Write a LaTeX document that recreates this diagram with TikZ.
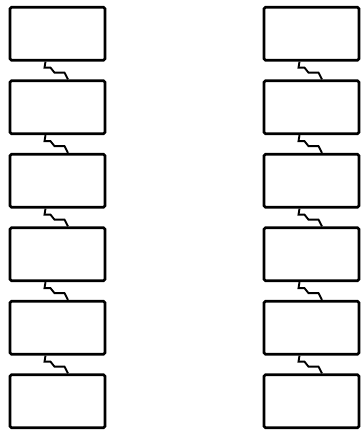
\documentclass[tikz,border=0pt]{standalone}
\usetikzlibrary{positioning}
\tikzstyle{cell}  = [rectangle, minimum width=95pt, minimum height=53pt,
                     draw=black, line width=2.8pt, rounded corners=1.5pt, inner sep=0pt]
\tikzstyle{link}  = [line width=1.9pt, line join=miter,
                     to path={([xshift=-12pt]\tikztostart.south) -- ++(-1pt,-6pt)
                       -- ++(6pt,0pt) -- ++(4pt,-5pt) -- ++(10pt,0pt)
                       -- ([xshift=10.5pt]\tikztotarget.north)}]
\begin{document}
\begin{tikzpicture}[node distance=17.7pt]
  \useasboundingbox (0,0) rectangle (361pt,-432pt);
  % left column
  \node (l1) [cell] at (57.5pt,-33.75pt) {};
  \node (l2) [cell, below=of l1] {};
  \node (l3) [cell, below=of l2] {};
  \node (l4) [cell, below=of l3] {};
  \node (l5) [cell, below=of l4] {};
  \node (l6) [cell, below=of l5] {};
  % right column
  \node (r1) [cell] at (311.5pt,-33.75pt) {};
  \node (r2) [cell, below=of r1] {};
  \node (r3) [cell, below=of r2] {};
  \node (r4) [cell, below=of r3] {};
  \node (r5) [cell, below=of r4] {};
  \node (r6) [cell, below=of r5] {};

  \draw [link] (l1) to (l2);
  \draw [link] (l2) to (l3);
  \draw [link] (l3) to (l4);
  \draw [link] (l4) to (l5);
  \draw [link] (l5) to (l6);

  \draw [link] (r1) to (r2);
  \draw [link] (r2) to (r3);
  \draw [link] (r3) to (r4);
  \draw [link] (r4) to (r5);
  \draw [link] (r5) to (r6);
\end{tikzpicture}
\end{document}
